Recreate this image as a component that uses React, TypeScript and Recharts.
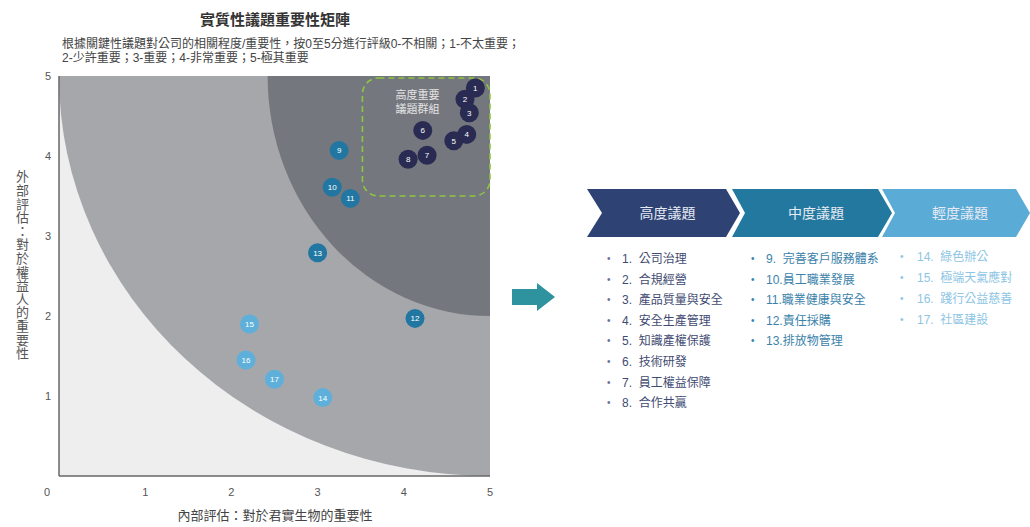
import React from 'react';
import { ScatterChart, Scatter, XAxis, YAxis, ReferenceArea } from 'recharts';

const FONT = '"Liberation Sans", "Noto Sans CJK TC", sans-serif';

// 議題坐標 (內部評估, 外部評估)
const highIssues = [
  { id: 1, x: 4.83, y: 4.85 },
  { id: 2, x: 4.71, y: 4.71 },
  { id: 3, x: 4.76, y: 4.54 },
  { id: 4, x: 4.73, y: 4.27 },
  { id: 5, x: 4.58, y: 4.19 },
  { id: 6, x: 4.22, y: 4.32 },
  { id: 7, x: 4.27, y: 4.01 },
  { id: 8, x: 4.05, y: 3.96 },
];
const midIssues = [
  { id: 9, x: 3.25, y: 4.07 },
  { id: 10, x: 3.17, y: 3.61 },
  { id: 11, x: 3.38, y: 3.47 },
  { id: 12, x: 4.13, y: 1.97 },
  { id: 13, x: 3.0, y: 2.79 },
];
const lowIssues = [
  { id: 14, x: 3.06, y: 0.98 },
  { id: 15, x: 2.21, y: 1.9 },
  { id: 16, x: 2.17, y: 1.45 },
  { id: 17, x: 2.5, y: 1.21 },
];

const xTicks = [0, 1, 2, 3, 4, 5];
const yTicks = [1, 2, 3, 4, 5];

// 高度重要區域的半徑 (數據單位)
const innerRx = 2.58;
const innerRy = 3.0;

const highList = ['1.  公司治理', '2.  合規經營', '3.  產品質量與安全', '4.  安全生產管理', '5.  知識產權保護', '6.  技術研發', '7.  員工權益保障', '8.  合作共贏'];
const midList = ['9.  完善客戶服務體系', '10.員工職業發展', '11.職業健康與安全', '12.責任採購', '13.排放物管理'];
const lowList = ['14.  綠色辦公', '15.  極端天氣應對', '16.  踐行公益慈善', '17.  社區建設'];

const COLORS = { high: '#2a2b52', mid: '#2277a2', low: '#5eb0da' };

const Bubble = (color: string) => (props: any) => {
  const { cx, cy, payload } = props;
  return (
    <g>
      <circle cx={cx} cy={cy} r={9.5} fill={color} />
      <text x={cx} y={cy} dy={3} textAnchor="middle" fontSize={8} fill="#fff" fontFamily={FONT}>
        {payload.id}
      </text>
    </g>
  );
};

const Background = (props: any) => {
  const { x, y, width: w, height: h } = props;
  const rx = (innerRx / 5) * w;
  const ry = (innerRy / 5) * h;
  return (
    <g>
      <rect x={x} y={y} width={w} height={h} fill="#eeeeee" />
      <path d={`M${x + w},${y} L${x},${y} A${w},${h} 0 0 0 ${x + w},${y + h} Z`} fill="#a5a7ab" />
      <path d={`M${x + w},${y} L${x + w - rx},${y} A${rx},${ry} 0 0 0 ${x + w},${y + ry} Z`} fill="#75777e" />
    </g>
  );
};

const GroupBox = (props: any) => {
  const { x, y, width, height } = props;
  return (
    <g>
      <rect x={x} y={y} width={width} height={height} rx={16} ry={16} fill="none" stroke="#8dc63f" strokeWidth={1.6} strokeDasharray="6 4" />
      <text x={x + 55} y={y + 21} textAnchor="middle" fontSize={11} fill="#e4e4e4" fontFamily={FONT}>高度重要</text>
      <text x={x + 55} y={y + 35} textAnchor="middle" fontSize={11} fill="#e4e4e4" fontFamily={FONT}>議題群組</text>
    </g>
  );
};

const XTick = (props: any) => {
  const { x, y, payload } = props;
  const dx = payload.value === 0 ? -12 : 0;
  return (
    <text x={x + dx} y={y} dy={12} textAnchor="middle" fontSize={11} fill="#555" fontFamily={FONT}>
      {payload.value}
    </text>
  );
};

const Chevron = ({ x, w, color, label, first }: { x: number; w: number; color: string; label: string; first?: boolean }) => {
  const top = 189;
  const bot = 237;
  const mid = 213;
  const n = first ? 15 : 13;
  const pts = `${x},${top} ${x + w - 14},${top} ${x + w},${mid} ${x + w - 14},${bot} ${x},${bot} ${x + n},${mid}`;
  return (
    <g>
      <polygon points={pts} fill={color} />
      <text x={x + w / 2 + 4} y={mid + 5} textAnchor="middle" fontSize={14} fill="#e6eaf2" fontFamily={FONT}>
        {label}
      </text>
    </g>
  );
};

const IssueList = ({ items, left, top, step, color, bulletColor, bulletGap }: any) => (
  <>
    {items.map((t: string, i: number) => (
      <div key={t} style={{ position: 'absolute', left, top: top + i * step - 8, height: 16, lineHeight: '16px', fontSize: 12, color, whiteSpace: 'pre', fontFamily: FONT }}>
        <span style={{ position: 'absolute', left: -bulletGap, color: bulletColor, fontSize: 10 }}>•</span>
        {t}
      </div>
    ))}
  </>
);

export default function App() {
  return (
    <div style={{ position: 'absolute', left: 0, top: 0, width: 1030, height: 527, background: '#fff', fontFamily: FONT, overflow: 'hidden' }}>
      <div style={{ position: 'absolute', left: 0, width: 550, top: 8, textAlign: 'center', fontSize: 15, fontWeight: 'bold', color: '#333' }}>
        實質性議題重要性矩陣
      </div>
      <div style={{ position: 'absolute', left: 62, top: 37, fontSize: 12, lineHeight: '14px', color: '#444' }}>
        根據關鍵性議題對公司的相關程度/重要性，按0至5分進行評級0-不相關；1-不太重要；
        <br />
        2-少許重要；3-重要；4-非常重要；5-極其重要
      </div>
      <div style={{ position: 'absolute', left: 12, top: 170, writingMode: 'vertical-rl', fontSize: 13, letterSpacing: 0.6, color: '#555' }}>
        外部評估：對於權益人的重要性
      </div>
      <div style={{ position: 'absolute', left: 0, width: 550, top: 505, textAlign: 'center', fontSize: 13, color: '#444' }}>
        內部評估：對於君實生物的重要性
      </div>

      <div style={{ position: 'absolute', left: 0, top: 0 }}>
        <ScatterChart width={521} height={527} margin={{ top: 76, right: 31, bottom: 21, left: 29 }}>
          <XAxis type="number" dataKey="x" domain={[0, 5]} ticks={xTicks} tick={<XTick />} tickLine={false} axisLine={{ stroke: '#666', strokeWidth: 1.5 }} height={30} />
          <YAxis type="number" dataKey="y" domain={[0, 5]} ticks={yTicks} tickLine={false} tickSize={0} tickMargin={8} axisLine={{ stroke: '#666', strokeWidth: 1.5 }} width={30} tick={{ fontSize: 11, fill: '#555', fontFamily: FONT }} />
          <ReferenceArea x1={0} x2={5} y1={0} y2={5} shape={<Background />} />
          <ReferenceArea x1={3.52} x2={5.0} y1={3.5} y2={4.975} shape={<GroupBox />} />
          <Scatter data={highIssues} shape={Bubble(COLORS.high)} isAnimationActive={false} />
          <Scatter data={midIssues} shape={Bubble(COLORS.mid)} isAnimationActive={false} />
          <Scatter data={lowIssues} shape={Bubble(COLORS.low)} isAnimationActive={false} />
        </ScatterChart>
      </div>

      <svg style={{ position: 'absolute', left: 0, top: 0 }} width={1030} height={527}>
        <polygon points="512,289 537,289 537,283 555,297 537,311 537,305 512,305" fill="#2e939f" />
        <Chevron x={587} w={153} color="#2e4374" label="高度議題" first />
        <Chevron x={732} w={160} color="#22789f" label="中度議題" />
        <Chevron x={882} w={148} color="#5aabd6" label="輕度議題" />
      </svg>

      <IssueList items={highList} left={622} top={259} step={20.6} color="#3f4b72" bulletColor="#6a7290" bulletGap={15} />
      <IssueList items={midList} left={766} top={259} step={20.5} color="#3a82aa" bulletColor="#3a82aa" bulletGap={15} />
      <IssueList items={lowList} left={917} top={257} step={21} color="#8dc5e4" bulletColor="#8dc5e4" bulletGap={17} />
    </div>
  );
}
